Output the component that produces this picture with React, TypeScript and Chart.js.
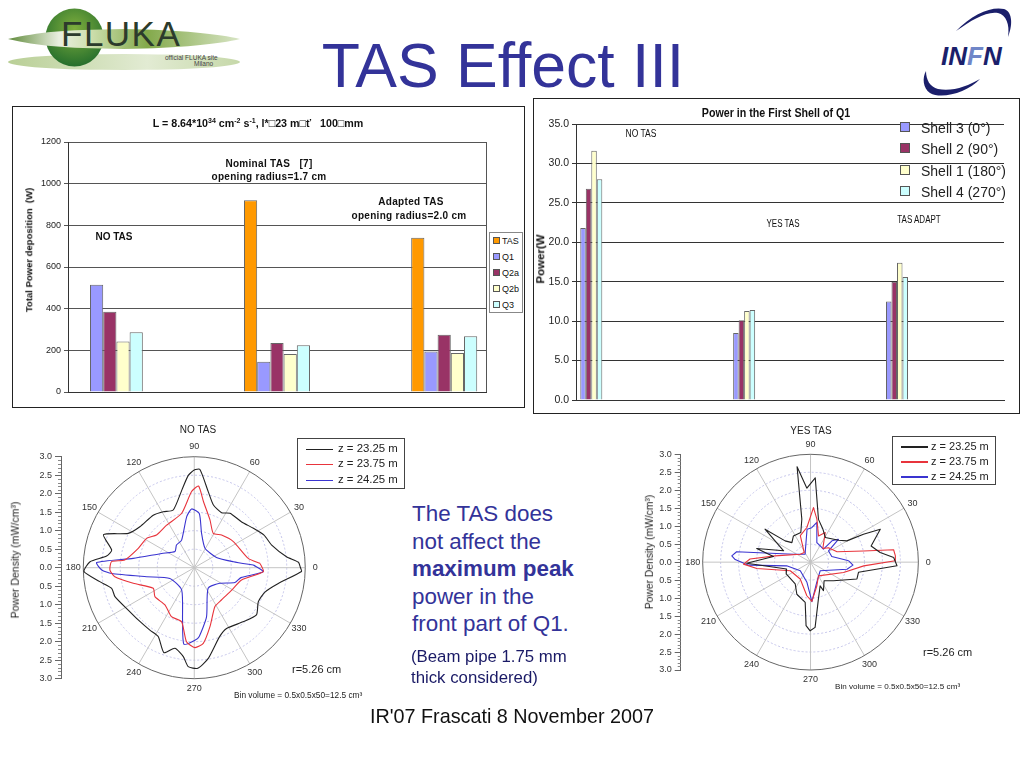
import React, { useEffect, useRef } from 'react';
import { Chart, registerables } from 'chart.js';

Chart.register(...registerables);

const ARIAL = '"Liberation Sans", Arial, sans-serif';

// top left chart
const totalCategories = ['NO TAS', '', 'Nominal TAS', '', 'Adapted TAS'];
const totalTAS = [null, null, 920, null, 740];
const totalQ1 = [515, null, 145, null, 195];
const totalQ2a = [385, null, 235, null, 275];
const totalQ2b = [242, null, 183, null, 187];
const totalQ3 = [287, null, 225, null, 268];

// top right chart
const shellCategories = ['NO TAS', '', '', '', '', 'YES TAS', '', '', '', '', 'TAS ADAPT', '', '', ''];
const shell3 = [21.8, null, null, null, null, 8.5, null, null, null, null, 12.5, null, null, null];
const shell2 = [26.8, null, null, null, null, 10.1, null, null, null, null, 15.0, null, null, null];
const shell1 = [31.6, null, null, null, null, 11.3, null, null, null, null, 17.4, null, null, null];
const shell4 = [28.0, null, null, null, null, 11.4, null, null, null, null, 15.6, null, null, null];

// polar curves: [angle in degrees, power density]
const noTasZ2325: [number, number][] = [
  [0, 2.87], [3, 2.82], [6.8, 2.51], [16.3, 2.18], [25, 2.08], [33.7, 1.92], [44, 1.78], [56.7, 1.76], [63.6, 1.66],
  [73, 1.77], [79.6, 2.09], [86.7, 2.66], [90, 2.64], [93.7, 2.5], [99, 2.13], [110, 1.66], [119, 1.73], [128, 1.8],
  [143, 1.84], [152.5, 2.01], [160, 2.61], [168, 2.28], [172.4, 2.39], [176.7, 2.82], [182, 2.98], [188.4, 2.58],
  [194, 2.3], [200, 2.28], [212.7, 2.12], [223, 2.07], [234.6, 2.07], [242.4, 2.1], [250.4, 2.44], [256.5, 2.24],
  [263, 2.42], [266.5, 2.68], [272, 2.72], [278.8, 2.48], [290, 1.99], [298, 1.86], [312, 1.97], [322.8, 2.11],
  [332, 1.96], [341, 2.02], [349.4, 2.31], [358, 2.9],
];
const noTasZ2375: [number, number][] = [
  [3.8, 1.78], [9.8, 1.48], [33.7, 1.27], [50, 1.15], [61, 1.06], [71.8, 1.36], [82, 1.8], [87, 2.21], [92, 2.06],
  [103, 1.51], [123, 1.37], [139, 1.35], [148, 1.51], [161, 1.6], [173.7, 1.89], [175.8, 2.24], [181.6, 2.28],
  [186.5, 2.16], [194.4, 1.7], [206.7, 1.24], [216.4, 1.32], [231.8, 1.28], [245, 1.46], [256.8, 1.5], [264, 2.01],
  [270.5, 2.16], [276.8, 2.06], [284.9, 1.65], [298, 1.19], [310, 1.14], [329, 1.18], [345.4, 1.32], [356.7, 1.87],
];
const noTasZ2425: [number, number][] = [
  [2.6, 1.6], [8.7, 1.07], [24.8, 0.66], [61, 0.6], [78, 0.95], [84.7, 1.47], [92.6, 1.59], [98.5, 1.39], [114.6, 0.82],
  [128, 0.78], [140, 0.68], [156.3, 0.96], [171.3, 1.67], [177, 2.64], [181.4, 2.5], [184, 2.24], [190.7, 1.31],
  [203.7, 0.72], [240.4, 0.69], [257.4, 1.45], [262.3, 2.09], [270.5, 1.96], [274, 1.87], [284, 1.37], [304, 0.67],
  [328.6, 0.81], [340, 1.17], [348, 1.29], [356.7, 1.87],
];
const yesTasZ2325: [number, number][] = [
  [3.2, 2.31], [7.9, 1.95], [15, 1.74], [25.3, 2.14], [27.8, 1.66], [30.4, 1.17], [38, 0.99], [59, 0.8], [70, 0.99],
  [79.5, 1.21], [86.8, 2.35], [92.8, 2.06], [98, 2.68], [101.4, 1.22], [108, 0.87], [123, 0.87], [133.5, 0.75],
  [140, 0.92], [144, 1.56], [157, 0.81], [165.7, 1.54], [171.3, 1.04], [181, 1.77], [196, 0.69], [206, 0.75],
  [235, 0.74], [247, 0.97], [262.5, 1.13], [266, 1.77], [269.7, 1.91], [274, 1.82], [282, 1.05], [292, 0.71],
  [294.4, 0.87], [306, 0.64], [321, 0.82], [340, 1.37], [348, 1.36], [357.6, 2.4],
];
const yesTasZ2375: [number, number][] = [
  [4.3, 2.36], [8.5, 2.33], [12, 1.5], [21.4, 0.79], [39, 0.64], [48, 0.51], [63.7, 0.92], [73, 0.76], [81.6, 1.21],
  [86.9, 1.52], [96, 0.97], [111, 0.79], [123, 0.32], [142, 0.36], [170, 1.0], [177, 1.68], [181.7, 1.86], [186.7, 1.5],
  [203, 0.61], [238.7, 0.55], [263.8, 0.94], [272, 1.09], [285, 0.68], [300, 0.44], [342.6, 0.96], [356, 1.48], [0.9, 2.35],
];
const yesTasZ2425: [number, number][] = [
  [2, 1.06], [14.9, 0.61], [32, 0.59], [39.4, 1.0], [45, 0.84], [45, 0.51], [72, 0.57], [81, 1.12], [88, 0.96], [96, 0.92],
  [124, 0.27], [155, 0.52], [172, 2.07], [175.4, 2.19], [178, 2.09], [182.8, 1.72], [188.8, 0.67], [220, 0.37], [260, 0.57],
  [272, 1.1], [287, 0.59], [318, 0.36], [349, 1.03], [356, 1.18],
];
const polarTicks = [0.5, 1, 1.5, 2, 2.5];
const polarAngles = [0, 30, 60, 90, 120, 150, 180, 210, 240, 270, 300, 330];
const zLabels = ['z = 23.25 m', 'z = 23.75 m', 'z = 24.25 m'];
const zColors = ['#222222', '#e8343c', '#3a34d0'];

const toXY = (curve: [number, number][]) =>
  [...curve, curve[0]].map(([deg, r]) => ({
    x: r * Math.cos((deg * Math.PI) / 180),
    y: r * Math.sin((deg * Math.PI) / 180),
  }));

const polarGrid = {
  id: 'polarGrid',
  beforeDatasetsDraw(chart: any) {
    const { ctx, scales } = chart;
    const cx = scales.x.getPixelForValue(0);
    const cy = scales.y.getPixelForValue(0);
    const unit = scales.y.getPixelForValue(0) - scales.y.getPixelForValue(1);
    ctx.save();
    ctx.lineWidth = 1;
    ctx.setLineDash([2, 2]);
    ctx.strokeStyle = '#c4c4ea';
    polarTicks.forEach((t) => {
      ctx.beginPath();
      ctx.arc(cx, cy, t * unit, 0, Math.PI * 2);
      ctx.stroke();
    });
    ctx.setLineDash([]);
    ctx.strokeStyle = '#c4c4c4';
    polarAngles.forEach((a) => {
      const rad = (a * Math.PI) / 180;
      ctx.beginPath();
      ctx.moveTo(cx, cy);
      ctx.lineTo(cx + 3 * unit * Math.cos(rad), cy - 3 * unit * Math.sin(rad));
      ctx.stroke();
    });
    ctx.strokeStyle = '#666';
    ctx.beginPath();
    ctx.arc(cx, cy, 3 * unit, 0, Math.PI * 2);
    ctx.stroke();
    ctx.fillStyle = '#333';
    ctx.font = `9px ${ARIAL}`;
    ctx.textAlign = 'center';
    ctx.textBaseline = 'middle';
    polarAngles.forEach((a) => {
      const rad = (a * Math.PI) / 180;
      const r = 3 * unit + 10;
      ctx.fillText(String(a), cx + r * Math.cos(rad), cy - r * Math.sin(rad));
    });
    // small ticks on the left axis
    const ax = scales.y.right;
    ctx.strokeStyle = '#888';
    for (let i = -30; i <= 30; i++) {
      if (i % 5 === 0) continue;
      const y = Math.round(scales.y.getPixelForValue(i / 10)) + 0.5;
      ctx.beginPath();
      ctx.moveTo(ax, y);
      ctx.lineTo(ax - 3, y);
      ctx.stroke();
    }
    ctx.restore();
  },
};

const rightEdge = {
  id: 'rightEdge',
  beforeDatasetsDraw(chart: any) {
    const { ctx, chartArea } = chart;
    ctx.save();
    ctx.strokeStyle = '#555';
    ctx.beginPath();
    ctx.moveTo(chartArea.right + 0.5, chartArea.top);
    ctx.lineTo(chartArea.right + 0.5, chartArea.bottom);
    ctx.stroke();
    ctx.restore();
  },
};

const Canvas = ({ left, top, width, height, make }: any) => {
  const ref = useRef<HTMLCanvasElement>(null);
  useEffect(() => {
    if (!ref.current) return;
    const chart = new Chart(ref.current, make());
    return () => chart.destroy();
  }, []);
  return <canvas ref={ref} width={width} height={height} style={{ position: 'absolute', left, top, width, height }} />;
};

const barDs = (label: string, data: any[], color: string) => ({
  label,
  data,
  backgroundColor: color,
  borderColor: '#666',
  borderWidth: 1,
  categoryPercentage: 0.79,
  barPercentage: 1,
});

const barOptions = (padding: any, yWidth: number, max: number, step: number, fmt: any, font: any, grid: string) => ({
  animation: false,
  responsive: false,
  layout: { padding },
  plugins: { legend: { display: false }, tooltip: { enabled: false } },
  scales: {
    x: {
      ticks: { display: false },
      grid: { display: false },
      border: { color: '#333' },
      afterFit: (s: any) => { s.height = 0; },
    },
    y: {
      min: 0,
      max,
      ticks: { stepSize: step, color: '#222', font, callback: fmt, padding: 3 },
      grid: { color: grid, tickLength: 4 },
      border: { color: '#333' },
      afterFit: (s: any) => { s.width = yWidth; },
    },
  },
});

const polarChart = (curves: [number, number][][], padding: any, yWidth: number, tension: number) => () => ({
  type: 'scatter',
  data: {
    datasets: curves.map((c, i) => ({
      label: zLabels[i],
      data: toXY(c),
      showLine: true,
      pointRadius: 0,
      borderColor: zColors[i],
      borderWidth: 1.1,
      borderJoinStyle: 'round',
      tension,
    })),
  },
  options: {
    animation: false,
    responsive: false,
    layout: { padding },
    plugins: { legend: { display: false }, tooltip: { enabled: false } },
    scales: {
      x: { type: 'linear', display: false, min: -3.6, max: 3 },
      y: {
        min: -3,
        max: 3,
        ticks: { stepSize: 0.5, color: '#333', font: { size: 9, family: ARIAL }, padding: 3, callback: (v: any) => Math.abs(v).toFixed(1) },
        grid: { drawOnChartArea: false, color: '#666', tickLength: 6 },
        border: { color: '#666' },
        afterFit: (s: any) => { s.width = yWidth; },
      },
    },
  },
  plugins: [polarGrid],
});

const Txt = ({ x, y, size, children, color = '#111', bold, family = ARIAL, center, rotate, scaleX, spacing }: any) => (
  <div
    style={{
      position: 'absolute',
      left: x,
      top: y,
      fontSize: size,
      color,
      fontWeight: bold ? 700 : 400,
      fontFamily: family,
      whiteSpace: 'pre',
      lineHeight: 1,
      letterSpacing: spacing,
      transform: `translate(${center || rotate ? '-50%' : '0'}, -50%)${rotate ? ` rotate(${rotate}deg)` : ''}${scaleX ? ` scaleX(${scaleX})` : ''}`,
    }}
  >
    {children}
  </div>
);

const Swatch = ({ x, y, size, color }: any) => (
  <div style={{ position: 'absolute', left: x, top: y, width: size, height: size, background: color, border: '1px solid #555', boxSizing: 'border-box' }} />
);

const ZLegend = ({ x, y, w, h, lineX, textX, rows, lineH, size }: any) => (
  <>
    <div style={{ position: 'absolute', left: x, top: y, width: w, height: h, border: '1px solid #444', boxSizing: 'border-box', background: '#fff' }} />
    {zLabels.map((l, i) => (
      <React.Fragment key={l}>
        <div style={{ position: 'absolute', left: lineX, top: rows[i], width: 27, height: lineH, background: zColors[i] }} />
        <Txt x={textX} y={rows[i]} size={size} color="#222">{l}</Txt>
      </React.Fragment>
    ))}
  </>
);

const FlukaLogo = () => (
  <svg width={250} height={80} style={{ position: 'absolute', left: 0, top: 0 }}>
    <defs>
      <linearGradient id="band" x1="0" x2="1" y1="0" y2="0">
        <stop offset="0" stopColor="#5f8a3a" />
        <stop offset="0.22" stopColor="#e9efe0" />
        <stop offset="0.35" stopColor="#cfe0b0" />
        <stop offset="0.6" stopColor="#83a94b" />
        <stop offset="1" stopColor="#d8e5c5" />
      </linearGradient>
      <linearGradient id="low" x1="0" x2="1" y1="0" y2="0">
        <stop offset="0" stopColor="#b9cf96" />
        <stop offset="0.6" stopColor="#e2ebd3" />
        <stop offset="1" stopColor="#c6d8a9" />
      </linearGradient>
      <radialGradient id="ball" cx="0.5" cy="0.35" r="0.7">
        <stop offset="0" stopColor="#7fae3d" />
        <stop offset="1" stopColor="#1f6a2b" />
      </radialGradient>
    </defs>
    <ellipse cx={124} cy={62} rx={116} ry={8} fill="url(#low)" />
    <circle cx={74.5} cy={37.5} r={29} fill="url(#ball)" />
    <path d="M8 39 C40 32 60 30 124 29 C180 30 220 34 240 39 C220 44 180 48 124 49 C60 48 40 46 8 39Z" fill="url(#band)" />
    <text x={61} y={46} fontFamily={ARIAL} fontSize={35} fill="#2c3b2c" letterSpacing={1.5}>FLUKA</text>
    <text x={165} y={60} fontFamily={ARIAL} fontSize={6.5} fill="#444">official FLUKA site</text>
    <text x={194} y={66} fontFamily={ARIAL} fontSize={6.5} fill="#444">Milano</text>
  </svg>
);

const InfnLogo = () => (
  <svg width={104} height={100} style={{ position: 'absolute', left: 920, top: 0 }}>
    <path d="M36 31 C52 14 72 6 84 9 C91 11 94 22 88 37 C90 24 86 15 78 13 C66 11 52 20 36 31Z" fill="#1b1f6b" />
    <path d="M60 79 C48 92 22 100 10 93 C3 88 2 78 6 71 C6 80 10 87 18 89 C32 92 48 86 60 79Z" fill="#1b1f6b" />
    <text x={21} y={65} fontFamily={ARIAL} fontSize={26} fontWeight={700} fontStyle="italic" fill="#1b1f6b">
      IN<tspan fill="#6f86c8">F</tspan>N
    </text>
  </svg>
);

const Frame = ({ left, top, width, height }: any) => (
  <div style={{ position: 'absolute', left, top, width, height, border: '1px solid #222', boxSizing: 'border-box', background: '#fff' }} />
);

export default function App() {
  const blue = '#333399';
  return (
    <div style={{ position: 'absolute', left: 0, top: 0, width: 1024, height: 768, overflow: 'hidden', background: '#fff' }}>
      <FlukaLogo />
      <InfnLogo />
      <Txt x={503} y={65} size={62.5} color={blue} center>TAS Effect III</Txt>

      {/* total power */}
      <Frame left={12} top={106} width={513} height={302} />
      <Canvas
        left={13}
        top={107}
        width={510}
        height={299}
        make={() => ({
          type: 'bar',
          data: {
            labels: totalCategories,
            datasets: [
              barDs('TAS', totalTAS, '#ff9900'),
              barDs('Q1', totalQ1, '#9999ff'),
              barDs('Q2a', totalQ2a, '#993366'),
              barDs('Q2b', totalQ2b, '#ffffcc'),
              barDs('Q3', totalQ3, '#ccffff'),
            ],
          },
          options: barOptions({ left: 10, right: 37, top: 35, bottom: 14 }, 45, 1200, 200, (v: any) => String(v), { size: 9, family: ARIAL }, '#555'),
          plugins: [rightEdge],
        })}
      />
      <Txt x={258} y={123} size={10.7} bold center>
        L = 8.64*10<sup style={{ fontSize: 7 }}>34</sup> cm<sup style={{ fontSize: 7 }}>-2</sup> s<sup style={{ fontSize: 7 }}>-1</sup>, l*□23 m□ť   100□mm
      </Txt>
      <Txt x={29} y={250} size={9.5} bold center rotate={-90}>Total Power deposition  (W)</Txt>
      <Txt x={269} y={164} size={10} bold center spacing={0.3}>Nominal TAS   [7]</Txt>
      <Txt x={269} y={177} size={10} bold center spacing={0.3}>opening radius=1.7 cm</Txt>
      <Txt x={411} y={202} size={10} bold center spacing={0.3}>Adapted TAS</Txt>
      <Txt x={409} y={216} size={10} bold center spacing={0.3}>opening radius=2.0 cm</Txt>
      <Txt x={114} y={237} size={10} bold center>NO TAS</Txt>
      <div style={{ position: 'absolute', left: 489, top: 232, width: 34, height: 81, border: '1px solid #888', boxSizing: 'border-box', background: '#fff' }} />
      {['TAS', 'Q1', 'Q2a', 'Q2b', 'Q3'].map((l, i) => (
        <React.Fragment key={l}>
          <Swatch x={493} y={237 + i * 16} size={7} color={['#ff9900', '#9999ff', '#993366', '#ffffcc', '#ccffff'][i]} />
          <Txt x={502} y={241 + i * 16} size={9}>{l}</Txt>
        </React.Fragment>
      ))}

      {/* first shell */}
      <Frame left={533} top={98} width={487} height={316} />
      <Canvas
        left={534}
        top={99}
        width={485}
        height={314}
        make={() => ({
          type: 'bar',
          data: {
            labels: shellCategories,
            datasets: [
              barDs('Shell 3 (0°)', shell3, '#9999ff'),
              barDs('Shell 2 (90°)', shell2, '#993366'),
              barDs('Shell 1 (180°)', shell1, '#ffffcc'),
              barDs('Shell 4 (270°)', shell4, '#ccffff'),
            ].map((d) => ({ ...d, categoryPercentage: 0.72 })),
          },
          options: barOptions({ left: 8, right: 15, top: 25, bottom: 13 }, 34, 35, 5, (v: any) => Number(v).toFixed(1), { size: 10.5, family: ARIAL }, '#333'),
        })}
      />
      <Txt x={776} y={113} size={12} bold center scaleX={0.89}>Power in the First Shell of Q1</Txt>
      <Txt x={541} y={259} size={11.5} bold center rotate={-90}>Power(W</Txt>
      <Txt x={641} y={134} size={10} center scaleX={0.85}>NO TAS</Txt>
      <Txt x={783} y={224} size={10} center scaleX={0.8}>YES TAS</Txt>
      <Txt x={919} y={220} size={10} center scaleX={0.8}>TAS ADAPT</Txt>
      {['Shell 3 (0°)', 'Shell 2 (90°)', 'Shell 1 (180°)', 'Shell 4 (270°)'].map((l, i) => (
        <React.Fragment key={l}>
          <Swatch x={900} y={122 + i * 21.3} size={10} color={['#9999ff', '#993366', '#ffffcc', '#ccffff'][i]} />
          <Txt x={921} y={128 + i * 21.3} size={14} color="#222">{l}</Txt>
        </React.Fragment>
      ))}

      {/* polar plots */}
      <Canvas left={0} top={430} width={412} height={270} make={polarChart([noTasZ2325, noTasZ2375, noTasZ2425], { left: 26, right: 106.7, top: 26.7, bottom: 21.3 }, 35, 0.2)} />
      <Txt x={198} y={430} size={10} center color="#222">NO TAS</Txt>
      <Txt x={15} y={560} size={10.5} center rotate={-90} color="#222">Power Density (mW/cm³)</Txt>
      <ZLegend x={297} y={438} w={108} h={51} lineX={306} textX={338} rows={[449, 464, 480]} lineH={1} size={11.4} />
      <Txt x={292} y={669} size={11} color="#222">r=5.26 cm</Txt>
      <Txt x={234} y={695} size={8.3} color="#222">Bin volume = 0.5x0.5x50=12.5 cm³</Txt>

      <Canvas left={640} top={430} width={384} height={260} make={polarChart([yesTasZ2325, yesTasZ2375, yesTasZ2425], { left: 5.7, right: 105.3, top: 24.3, bottom: 20 }, 35, 0)} />
      <Txt x={811} y={431} size={10} center color="#222">YES TAS</Txt>
      <Txt x={650} y={552} size={10.3} center rotate={-90} color="#222">Power Density (mW/cm³)</Txt>
      <ZLegend x={892} y={436} w={104} h={49} lineX={901} textX={931} rows={[446, 461, 476]} lineH={1.5} size={11} />
      <Txt x={923} y={652} size={11} color="#222">r=5.26 cm</Txt>
      <Txt x={835} y={687} size={8.1} color="#222">Bin volume = 0.5x0.5x50=12.5 cm³</Txt>

      {/* note */}
      {['The TAS does', 'not affect the', 'maximum peak', 'power in the', 'front part of Q1.'].map((l, i) => (
        <Txt key={l} x={412} y={514 + i * 27.5} size={22.4} color={blue} bold={i === 2}>{l}</Txt>
      ))}
      <Txt x={411} y={657} size={16.8} color="#1a1a66">(Beam pipe 1.75 mm</Txt>
      <Txt x={411} y={678} size={16.8} color="#1a1a66">thick considered)</Txt>
      <Txt x={512} y={717} size={19.8} center>IR'07 Frascati 8 November 2007</Txt>
    </div>
  );
}
